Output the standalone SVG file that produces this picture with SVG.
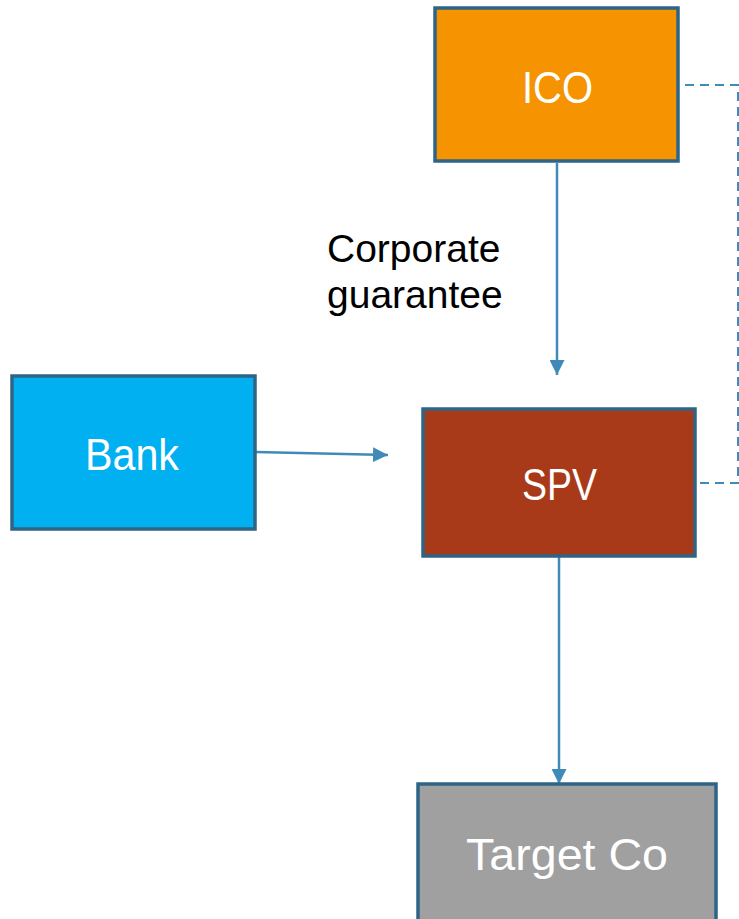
<svg xmlns="http://www.w3.org/2000/svg" width="739" height="919" viewBox="0 0 739 919">
<defs>
<style>
.box{stroke:#2e6586;stroke-width:3.5}
.lbl{font-family:"Liberation Sans",Arial,sans-serif;font-size:45px;fill:#fff;text-anchor:middle}
.conn{stroke:#3f8ab8;stroke-width:2.5;fill:none}
.dash{stroke:#3f8ab8;stroke-width:2;fill:none;stroke-dasharray:9,6}
.note{font-family:"Liberation Sans",Arial,sans-serif;font-size:39px;fill:#000}
</style>
<marker id="ah" viewBox="0 0 10 10" refX="10" refY="5" markerWidth="6" markerHeight="6" markerUnits="strokeWidth" orient="auto">
<path d="M0,0 L10,5 L0,10 z" fill="#3f8ab8"/>
</marker>
</defs>
<rect width="739" height="919" fill="#fff"/>
<g id="connectors">
<line class="conn" x1="557" y1="163" x2="557" y2="375" marker-end="url(#ah)"/>
<line class="conn" x1="256" y1="452" x2="388" y2="455" marker-end="url(#ah)"/>
<line class="conn" x1="559" y1="557" x2="559" y2="784" marker-end="url(#ah)"/>
<polyline class="dash" points="685,85 738,85 738,483 697,483"/>
</g>
<g id="ico">
<rect class="box" x="435" y="8" width="243" height="153" fill="#f59300"/>
<text class="lbl" x="557.5" y="103" textLength="71" lengthAdjust="spacingAndGlyphs">ICO</text>
</g>
<g id="bank">
<rect class="box" x="12" y="376" width="243" height="153" fill="#00b0f0"/>
<text class="lbl" x="132" y="470" textLength="94" lengthAdjust="spacingAndGlyphs">Bank</text>
</g>
<g id="spv">
<rect class="box" x="423" y="409" width="272" height="147" fill="#a93a19"/>
<text class="lbl" x="559.5" y="500" textLength="75" lengthAdjust="spacingAndGlyphs">SPV</text>
</g>
<g id="target">
<rect class="box" x="418" y="784" width="298" height="140" fill="#a0a0a0"/>
<text class="lbl" x="567" y="870" textLength="202" lengthAdjust="spacingAndGlyphs">Target Co</text>
</g>
<g id="label">
<text class="note" x="327" y="262">Corporate</text>
<text class="note" x="327" y="308">guarantee</text>
</g>
</svg>
